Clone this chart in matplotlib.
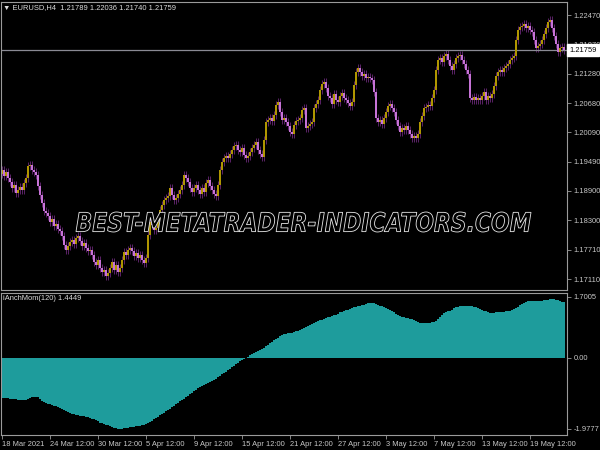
import matplotlib
matplotlib.use('Agg')
import matplotlib.pyplot as plt
from matplotlib.textpath import TextPath
from matplotlib.patches import PathPatch
from matplotlib.font_manager import FontProperties
from matplotlib.transforms import Affine2D, IdentityTransform

# ---------------- data ----------------
first_open = 1.19250
closes = [
    1.19324, 1.19202, 1.19283, 1.19162, 1.19080, 1.18959, 1.19020, 1.18857, 1.18918, 1.18979,
    1.18918, 1.19060, 1.19162, 1.19405, 1.19426, 1.19324, 1.19283, 1.19223, 1.18999, 1.18817,
    1.18654, 1.18492, 1.18451, 1.18390, 1.18268, 1.18329, 1.18187, 1.18228, 1.18126, 1.18086,
    1.17984, 1.17802, 1.17700, 1.17781, 1.17862, 1.17903, 1.17822, 1.17944, 1.17984, 1.17883,
    1.17781, 1.17842, 1.17741, 1.17680, 1.17700, 1.17599, 1.17456, 1.17396, 1.17497, 1.17335,
    1.17253, 1.17294, 1.17172, 1.17233, 1.17335, 1.17456, 1.17294, 1.17396, 1.17253, 1.17335,
    1.17497, 1.17659, 1.17599, 1.17700, 1.17741, 1.17680, 1.17578, 1.17639, 1.17538, 1.17599,
    1.17497, 1.17436, 1.17538, 1.18005, 1.18268, 1.18208, 1.18106, 1.18147, 1.18268, 1.18512,
    1.18614, 1.18715, 1.18756, 1.18796, 1.18959, 1.18817, 1.18715, 1.18756, 1.18837, 1.18918,
    1.19020, 1.19223, 1.19162, 1.19080, 1.18959, 1.18877, 1.18959, 1.19020, 1.18918, 1.18837,
    1.18959, 1.18877, 1.19060, 1.19121, 1.18999, 1.18918, 1.18837, 1.18796, 1.19020, 1.19324,
    1.19486, 1.19568, 1.19608, 1.19568, 1.19649, 1.19730, 1.19811, 1.19832, 1.19730, 1.19689,
    1.19771, 1.19629, 1.19568, 1.19608, 1.19689, 1.19771, 1.19832, 1.19892, 1.19730, 1.19649,
    1.19588, 1.19933, 1.20298, 1.20339, 1.20380, 1.20319, 1.20441, 1.20644, 1.20704, 1.20501,
    1.20339, 1.20380, 1.20298, 1.20217, 1.20095, 1.20055, 1.20238, 1.20319, 1.20339, 1.20380,
    1.20542, 1.20583, 1.20177, 1.20217, 1.20258, 1.20298, 1.20583, 1.20664, 1.20745, 1.20948,
    1.21070, 1.21110, 1.20989, 1.20826, 1.20786, 1.20664, 1.20867, 1.20745, 1.20704, 1.20826,
    1.20887, 1.20786, 1.20745, 1.20684, 1.20623, 1.20704, 1.21050, 1.21313, 1.21395, 1.21313,
    1.21232, 1.21273, 1.21192, 1.21212, 1.21192, 1.21151, 1.20907, 1.20380, 1.20298, 1.20339,
    1.20258, 1.20380, 1.20501, 1.20623, 1.20664, 1.20583, 1.20501, 1.20339, 1.20217, 1.20095,
    1.20177, 1.20136, 1.20217, 1.20136, 1.20055, 1.19974, 1.20014, 1.19974, 1.20055, 1.20298,
    1.20420, 1.20583, 1.20603, 1.20644, 1.20623, 1.20786, 1.20948, 1.21354, 1.21557, 1.21598,
    1.21516, 1.21638, 1.21679, 1.21557, 1.21435, 1.21354, 1.21476, 1.21598, 1.21638, 1.21659,
    1.21557, 1.21476, 1.21354, 1.21273, 1.20786, 1.20745, 1.20806, 1.20745, 1.20786, 1.20745,
    1.20826, 1.20907, 1.20745, 1.20826, 1.20786, 1.20867, 1.21029, 1.21232, 1.21313, 1.21354,
    1.21313, 1.21395, 1.21435, 1.21476, 1.21557, 1.21598, 1.21638, 1.21963, 1.22166, 1.22227,
    1.22247, 1.22288, 1.22207, 1.22247, 1.22166, 1.22125, 1.21963, 1.21801, 1.21841, 1.21882,
    1.21963, 1.22085, 1.22207, 1.22328, 1.22369, 1.22207, 1.22044, 1.21882, 1.21719, 1.21801,
    1.21821, 1.21759,
]
momentum = [
    -1.11, -1.11, -1.12, -1.12, -1.13, -1.13, -1.14, -1.15, -1.16, -1.17,
    -1.17, -1.17, -1.16, -1.14, -1.11, -1.09, -1.08, -1.08, -1.10, -1.14,
    -1.19, -1.22, -1.25, -1.27, -1.29, -1.31, -1.33, -1.35, -1.37, -1.39,
    -1.41, -1.44, -1.47, -1.50, -1.52, -1.55, -1.57, -1.59, -1.60, -1.61,
    -1.62, -1.63, -1.64, -1.65, -1.67, -1.69, -1.71, -1.74, -1.77, -1.80,
    -1.82, -1.84, -1.86, -1.88, -1.90, -1.92, -1.94, -1.96, -1.97, -1.98,
    -1.97, -1.96, -1.95, -1.94, -1.93, -1.92, -1.92, -1.91, -1.90, -1.89,
    -1.88, -1.86, -1.84, -1.81, -1.78, -1.75, -1.71, -1.68, -1.64, -1.60,
    -1.57, -1.53, -1.49, -1.45, -1.41, -1.37, -1.33, -1.29, -1.25, -1.21,
    -1.17, -1.13, -1.09, -1.05, -1.01, -0.97, -0.93, -0.89, -0.85, -0.82,
    -0.79, -0.76, -0.73, -0.70, -0.67, -0.64, -0.61, -0.58, -0.54, -0.50,
    -0.46, -0.42, -0.38, -0.34, -0.30, -0.26, -0.22, -0.18, -0.14, -0.09,
    -0.05, -0.02, 0.01, 0.04, 0.07, 0.10, 0.13, 0.16, 0.19, 0.22,
    0.25, 0.29, 0.33, 0.37, 0.41, 0.45, 0.49, 0.53, 0.57, 0.61,
    0.64, 0.66, 0.67, 0.69, 0.70, 0.71, 0.72, 0.74, 0.76, 0.78,
    0.80, 0.83, 0.86, 0.88, 0.91, 0.94, 0.97, 1.00, 1.03, 1.05,
    1.07, 1.09, 1.11, 1.13, 1.15, 1.17, 1.19, 1.21, 1.24, 1.27,
    1.29, 1.31, 1.33, 1.35, 1.37, 1.39, 1.41, 1.43, 1.44, 1.45,
    1.47, 1.49, 1.51, 1.52, 1.53, 1.53, 1.52, 1.50, 1.48, 1.46,
    1.44, 1.42, 1.40, 1.37, 1.34, 1.31, 1.28, 1.24, 1.20, 1.16,
    1.14, 1.13, 1.12, 1.11, 1.10, 1.08, 1.05, 1.02, 0.99, 0.98,
    0.97, 0.97, 0.97, 0.97, 0.98, 0.99, 1.00, 1.03, 1.08, 1.14,
    1.20, 1.25, 1.28, 1.30, 1.32, 1.35, 1.38, 1.41, 1.43, 1.45,
    1.46, 1.46, 1.46, 1.46, 1.46, 1.45, 1.43, 1.41, 1.39, 1.37,
    1.35, 1.32, 1.30, 1.27, 1.26, 1.25, 1.26, 1.27, 1.28, 1.28,
    1.29, 1.29, 1.30, 1.31, 1.32, 1.34, 1.36, 1.39, 1.43, 1.47,
    1.50, 1.53, 1.56, 1.58, 1.59, 1.59, 1.59, 1.59, 1.59, 1.59,
    1.60, 1.61, 1.62, 1.63, 1.64, 1.65, 1.64, 1.63, 1.61, 1.59,
    1.57, 1.56,
]
price_ticks = [1.22470, 1.21870, 1.21280, 1.20680, 1.20090, 1.19490, 1.18900, 1.18300, 1.17710, 1.17110]
current_price = 1.21759
mom_ticks = [1.7005, 0.0, -1.9777]
mom_tick_labels = ['1.7005', '0.00', '-1.9777']
date_tick_bars = [0, 24, 48, 72, 96, 120, 144, 168, 192, 216, 240, 264]
date_labels = ['18 Mar 2021', '24 Mar 12:00', '30 Mar 12:00', '5 Apr 12:00', '9 Apr 12:00',
               '15 Apr 12:00', '21 Apr 12:00', '27 Apr 12:00', '3 May 12:00', '7 May 12:00',
               '13 May 12:00', '19 May 12:00']
header_text = '\u25BC EURUSD,H4  1.21789 1.22036 1.21740 1.21759'
indicator_text = 'iAnchMom(120) 1.4449'
watermark = 'BEST-METATRADER-INDICATORS.COM'

# ---------------- styles ----------------
BULL = '#b09600'
BEAR = '#c673d6'
WICK = '#6a2878'
HIST = '#1e9c9c'
FRAME = '#9a9a9a'
TXT = '#c8c8c8'
FONT = ['Liberation Sans Narrow', 'Liberation Sans']
FS = 5.4

W, H = 600, 450
fig = plt.figure(figsize=(6, 4.5), dpi=100, facecolor='black')
ax = fig.add_axes([1 / W, 1 - 290 / H, 566 / W, 288 / H], facecolor='black')
ax2 = fig.add_axes([1 / W, 15 / H, 566 / W, 142 / H], facecolor='black')

n = len(closes)
xs = list(range(n))
opens = [first_open] + closes[:-1]
wick_ext = 0.0008

bull_x, bull_b, bull_h = [], [], []
bear_x, bear_b, bear_h = [], [], []
lows, highs = [], []
for i in xs:
    o, c = opens[i], closes[i]
    lo, hi = min(o, c), max(o, c)
    h = max(hi - lo, 0.0001)
    lows.append(lo - wick_ext)
    highs.append(hi + wick_ext)
    if c >= o:
        bull_x.append(i); bull_b.append(lo); bull_h.append(h)
    else:
        bear_x.append(i); bear_b.append(lo); bear_h.append(h)

ax.vlines(xs, lows, highs, color=WICK, lw=0.6, zorder=1)
ax.bar(bull_x, bull_h, bottom=bull_b, width=0.85, color=BULL, linewidth=0, zorder=2)
ax.bar(bear_x, bear_h, bottom=bear_b, width=0.85, color=BEAR, linewidth=0, zorder=2)
ax.axhline(current_price, color='#8a8a94', lw=0.9, zorder=1.5)

ax.set_xlim(-0.5, 282.5)
ax.set_ylim(1.16888, 1.22734)
ax.set_xticks([])
ax.yaxis.tick_right()
ax.set_yticks(price_ticks)
ax.set_yticklabels(['%.5f' % p for p in price_ticks])
ax.tick_params(axis='y', colors=FRAME, labelcolor=TXT, labelsize=FS, length=3, width=0.6, pad=1.5)
for lab in ax.get_yticklabels():
    lab.set_fontfamily(FONT)
for s in ax.spines.values():
    s.set_color(FRAME); s.set_linewidth(0.8)

ax.text(1.004, current_price, '%.5f' % current_price, transform=ax.get_yaxis_transform(),
        ha='left', va='center', fontsize=FS, family=FONT, color='black', clip_on=False, zorder=5,
        bbox=dict(boxstyle='square,pad=0.3', fc='white', ec='white'))

# lower panel
ax2.bar(xs, momentum, width=0.6, color=HIST, linewidth=0)
ax2.set_xlim(-0.5, 282.5)
ax2.set_ylim(-2.147, 1.812)
ax2.yaxis.tick_right()
ax2.set_yticks(mom_ticks)
ax2.set_yticklabels(mom_tick_labels)
ax2.set_xticks(date_tick_bars)
ax2.set_xticklabels(date_labels)
ax2.tick_params(axis='y', colors=FRAME, labelcolor=TXT, labelsize=FS, length=3, width=0.6, pad=1.5)
ax2.tick_params(axis='x', colors=FRAME, labelcolor=TXT, labelsize=FS, length=3, width=0.6, pad=1.5)
for lab in ax2.get_xticklabels():
    lab.set_ha('left'); lab.set_fontfamily(FONT)
for lab in ax2.get_yticklabels():
    lab.set_fontfamily(FONT)
for s in ax2.spines.values():
    s.set_color(FRAME); s.set_linewidth(0.8)

fig.text(3 / W, 1 - 8 / H, header_text, fontsize=FS, family=FONT, color='#dcdcdc', va='center', ha='left')
fig.text(3 / W, 1 - 298 / H, indicator_text, fontsize=FS, family=FONT, color='#dcdcdc', va='center', ha='left')

# watermark (outlined text)
tp = TextPath((0, 0), watermark, size=1,
              prop=FontProperties(family='DejaVu Sans', weight='bold', style='italic'))
ext = tp.get_extents()
x0, y0_top, x1, y1_bot = 76, 212, 531, 232
sx = (x1 - x0) / ext.width
sy = (y1_bot - y0_top) / ext.height
tr = Affine2D().translate(-ext.x0, -ext.y0).scale(sx, sy).translate(x0, H - y1_bot)
path = tr.transform_path(tp)
patch = PathPatch(path, transform=IdentityTransform(), fc='black', ec='#e8e8e8', lw=0.6, zorder=10)
fig.add_artist(patch)

fig.savefig('out.png', dpi=100, facecolor='black')
